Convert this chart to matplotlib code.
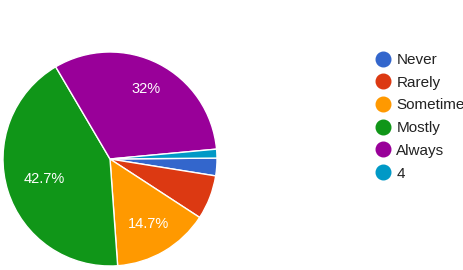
import numpy as np
import matplotlib.pyplot as plt
from matplotlib.lines import Line2D

plt.rcParams['font.family'] = ['Liberation Sans', 'DejaVu Sans']

# responses
labels = ['Never', 'Rarely', 'Sometimes', 'Mostly', 'Always', '4']
counts = [2, 5, 11, 32, 24, 1]
colors = ['#3366cc', '#dc3912', '#ff9900', '#109618', '#990099', '#0099c6']

fig = plt.figure(figsize=(4.63, 2.70), dpi=100)
W, H = 463, 270
cx, cy, r = 110, 159, 107
ax = fig.add_axes([(cx - r) / W, (H - cy - r) / H, 2 * r / W, 2 * r / H])


def pct(p):
    if p < 10:
        return ''
    s = '%.1f' % p
    if s.endswith('.0'):
        s = s[:-2]
    return s + '%'


wedges, texts, autotexts = ax.pie(counts, colors=colors, startangle=0.5, counterclock=False,
                                  autopct=pct, pctdistance=0.71,
                                  wedgeprops=dict(edgecolor='white', linewidth=1),
                                  textprops=dict(color='white', fontsize=10.5))
ax.set_xlim(-1, 1)
ax.set_ylim(-1, 1)
for w in wedges:
    w.set_clip_on(False)

# nudge label radii a little like the original layout
dist = [0.7, 0.7, 0.7, 0.64, 0.74, 0.7]
for w, t, d in zip(wedges, autotexts, dist):
    a = np.deg2rad((w.theta1 + w.theta2) / 2)
    t.set_position((d * np.cos(a), d * np.sin(a)))

handles = [Line2D([], [], marker='o', linestyle='', markersize=10.5, color=c) for c in colors]
leg = fig.legend(handles, labels, loc='upper left', bbox_to_anchor=(375 / W, 1 - 53 / H),
                 frameon=False, fontsize=11, labelspacing=0.57, handletextpad=0.4,
                 handlelength=1.0, borderaxespad=0, borderpad=0)
for t in leg.get_texts():
    t.set_color('#222222')

fig.savefig('out.png', dpi=100)
